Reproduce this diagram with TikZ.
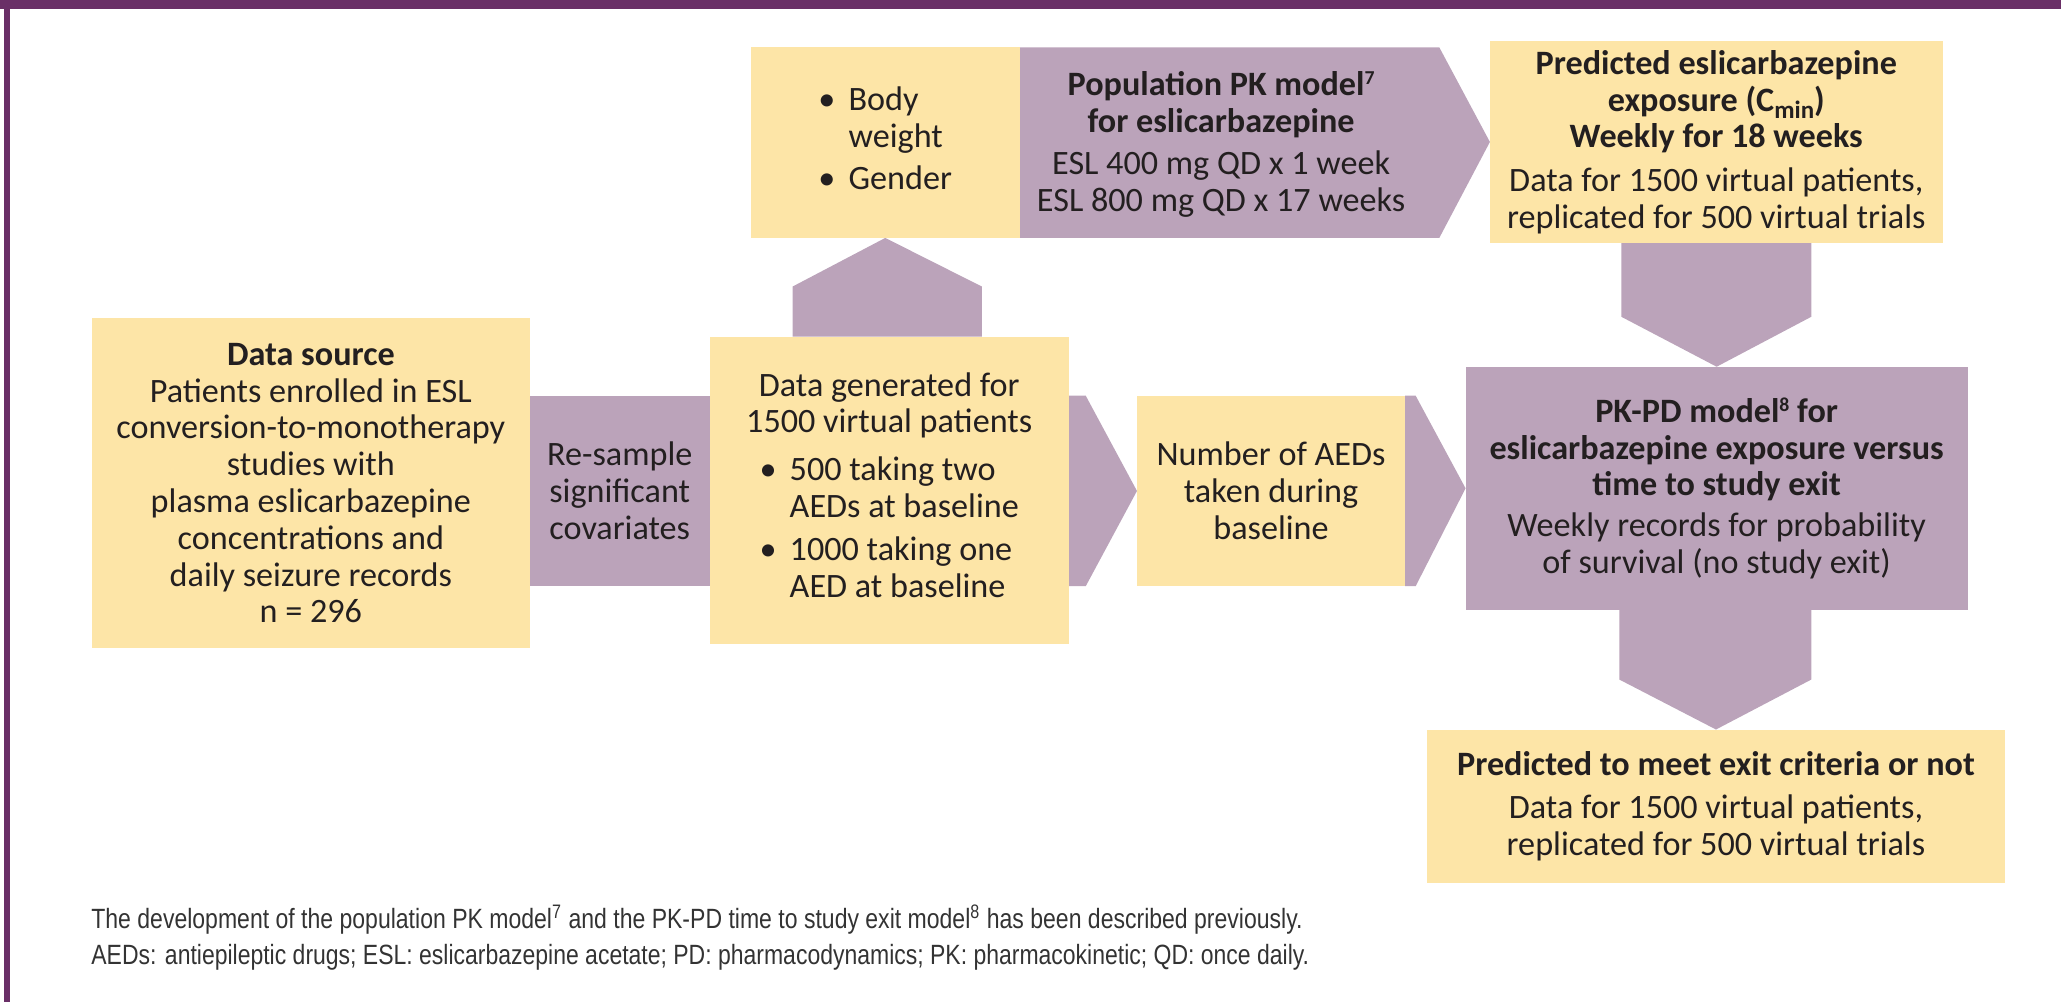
\documentclass[tikz,border=0pt]{standalone}
\usepackage{fontspec}
\usepackage{graphicx}
\setmainfont{Carlito}
\newfontfamily\footfont{Liberation Sans}
\usetikzlibrary{backgrounds}
\definecolor{framepurple}{HTML}{6A2F67}
\definecolor{mauve}{HTML}{BBA3BA}
\definecolor{boxyellow}{HTML}{FDE5A7}
\definecolor{ink}{HTML}{231F20}
\definecolor{footink}{HTML}{333333}
\newcommand{\supnum}[1]{\raisebox{4.2pt}{\fontsize{7.5}{7.5}\selectfont #1}}
\begin{document}
\begin{tikzpicture}[x=0.5pt,y=-0.5pt,
  every node/.style={inner sep=0pt,outer sep=0pt,text=ink,font={\fontsize{13}{14}\selectfont}},
  ybox/.style={fill=boxyellow,align=center},
  pbox/.style={fill=mauve,align=center},
  chev/.style={fill=mauve},
  foot/.style={anchor=base west,text=footink,font={\footfont\fontsize{10.6}{12}\selectfont}}]
\useasboundingbox (0,0) rectangle (1568,762);
% frame
\fill[framepurple] (0,0) rectangle (1568,6.6);
\fill[framepurple] (3,0) rectangle (7.6,762);

% boxes
\node[ybox,minimum width=166.5pt,minimum height=125.5pt] (ds) at (236.5,367.5)
  {\textbf{Data source}\\Patients enrolled in ESL\\conversion-to-monotherapy\\studies with\\plasma eslicarbazepine\\concentrations and\\daily seizure records\\n = 296};
\node[pbox,minimum width=68.5pt,minimum height=72.5pt] (rs) at (471.5,373.5)
  {Re-sample\\significant\\covariates};
\node[ybox,minimum width=136.5pt,minimum height=117pt] (dg) at (676.5,373)
  {Data generated for\\1500 virtual patients\\[4pt]%
   \begin{tabular}[t]{@{}l@{\hspace{5pt}}l@{}}\textbullet & 500 taking two\\ & AEDs at baseline\\[2.5pt]\textbullet & 1000 taking one\\ & AED at baseline\end{tabular}};
\node[ybox,minimum width=102.5pt,minimum height=72.5pt] (bw) at (673.5,108.5)
  {\begin{tabular}{@{}l@{\hspace{5pt}}l@{}}\textbullet & Body\\ & weight\\[2.25pt]\textbullet & Gender\end{tabular}};
\node[ybox,minimum width=172.25pt,minimum height=77pt] (pe) at (1305.75,108)
  {\textbf{Predicted eslicarbazepine}\\\textbf{exposure (C\raisebox{-3pt}{\fontsize{9.5}{9.5}\selectfont min})}\\\textbf{Weekly for 18 weeks}\\[2.5pt]Data for 1500 virtual patients,\\replicated for 500 virtual trials};
\node[pbox,minimum width=191pt,minimum height=92.5pt] (pkpd) at (1306,371.5)
  {\textbf{PK-PD model\supnum{8} for}\\\textbf{eslicarbazepine exposure versus}\\\textbf{time to study exit}\\[1.5pt]Weekly records for probability\\of survival (no study exit)};
\node[ybox,minimum width=102pt,minimum height=72.5pt] (na) at (967,373.5)
  {Number of AEDs\\taken during\\baseline};
\node[ybox,minimum width=219.5pt,minimum height=58.5pt] (out) at (1305.5,613.5)
  {\textbf{Predicted to meet exit criteria or not}\\[2.5pt]Data for 1500 virtual patients,\\replicated for 500 virtual trials};

% block arrows
\begin{scope}[on background layer]
\fill[chev] (603,256) -- (603,218) -- (bw.south) -- (747,218) -- (747,256) -- cycle;
\fill[chev] (bw.north east) -- (1095,36) -- (pe.west) -- (1095,181) -- (bw.south east) -- cycle;
\fill[chev] (1233.5,185) -- (1233.5,241) -- (pkpd.north) -- (1378,241) -- (1378,185) -- cycle;
\fill[chev] (813,301) -- (826,301) -- (na.west) -- (826,446) -- (813,446) -- cycle;
\fill[chev] (na.north east) -- (1077,301) -- (pkpd.west) -- (1077,446) -- (na.south east) -- cycle;
\fill[chev] (1232,464) -- (1232,517) -- (out.north) -- (1378,517) -- (1378,464) -- cycle;
\end{scope}
\node[align=center] (pkm) at (929,110)
  {\textbf{Population PK model\supnum{7}}\\\textbf{for eslicarbazepine}\\[2pt]ESL 400 mg QD x 1 week\\ESL 800 mg QD x 17 weeks};

% footnotes
\node[foot] (f1) at (69.5,706.5)
  {\resizebox{460.75pt}{\height}{The development of the population PK model\textsuperscript{7} and the PK-PD time to study exit model\textsuperscript{8} has been described previously.}};
\node[foot] (f2) at (69.5,734)
  {\resizebox{463.25pt}{\height}{AEDs: antiepileptic drugs; ESL: eslicarbazepine acetate; PD: pharmacodynamics; PK: pharmacokinetic; QD: once daily.}};
\end{tikzpicture}
\end{document}
